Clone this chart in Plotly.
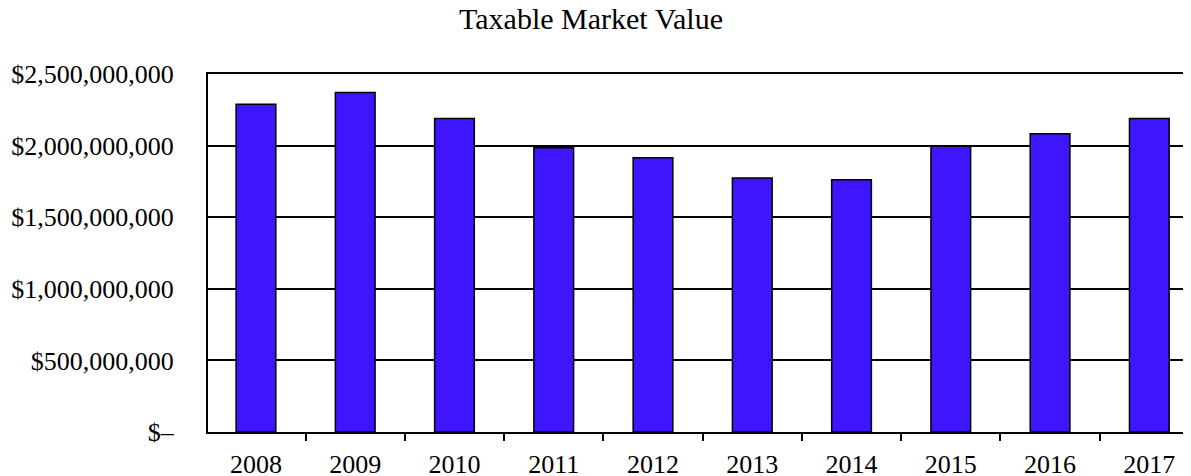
import plotly.graph_objects as go

years = ["2008", "2009", "2010", "2011", "2012", "2013", "2014", "2015", "2016", "2017"]
values = [2288000000, 2370000000, 2190000000, 1985000000, 1916000000,
          1774000000, 1762000000, 1995000000, 2083000000, 2190000000]
y_tickvals = [0, 500000000, 1000000000, 1500000000, 2000000000, 2500000000]
y_ticktext = ["$–", "$500,000,000", "$1,000,000,000", "$1,500,000,000",
              "$2,000,000,000", "$2,500,000,000"]

FONT = "Liberation Serif, Times New Roman, serif"

fig = go.Figure(go.Bar(
    x=years, y=values, width=0.4,
    marker=dict(color="#3F14FF", line=dict(color="black", width=1.5)),
))

fig.update_layout(
    width=1191, height=476,
    margin=dict(l=200, r=7, t=66, b=52, autoexpand=False),
    paper_bgcolor="white", plot_bgcolor="white",
    font=dict(family=FONT, size=26, color="black"),
    showlegend=False,
    title=dict(text="Taxable Market Value", x=583 / 1191, xanchor="center",
               y=1 - 10 / 476, yanchor="middle",
               font=dict(family=FONT, size=30, color="black")),
)
fig.update_xaxes(
    type="category", range=[-0.483, 9.43], automargin=False,
    showline=True, linecolor="black", linewidth=2, mirror=True,
    ticks="outside", tickson="boundaries", ticklen=7, tickcolor="black", tickwidth=2,
    showgrid=False, ticklabelstandoff=8,
)
fig.update_yaxes(
    range=[0, 2500000000], tickvals=y_tickvals, ticktext=y_ticktext, automargin=False,
    showline=True, linecolor="black", linewidth=2, mirror=False,
    showgrid=True, gridcolor="black", gridwidth=1.5, zeroline=False,
    ticks="", ticklabelstandoff=27,
)

fig.write_html("out.html")
